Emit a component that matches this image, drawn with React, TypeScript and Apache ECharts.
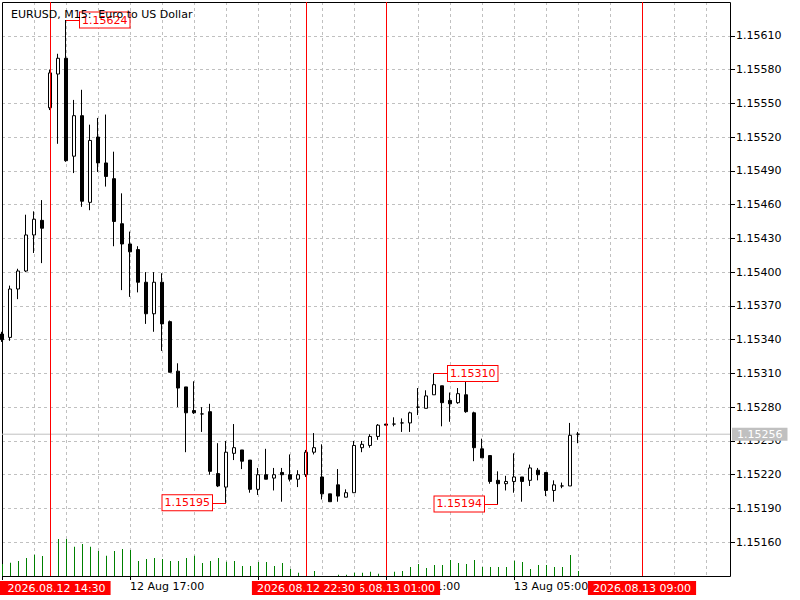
import React, { useEffect, useRef } from "react";
import * as echarts from "echarts";

const TITLE = "EURUSD, M15:  Euro to US Dollar";
const START_UTC = "2026-08-12T13:00:00Z";
const SLOT_COUNT = 92; // 73 bars + empty space on the right
const MONTHS = ["Jan", "Feb", "Mar", "Apr", "May", "Jun", "Jul", "Aug", "Sep", "Oct", "Nov", "Dec"];

const OPEN = [
  1.15345, 1.15342, 1.15385, 1.15401, 1.15433, 1.15446, 1.15546, 1.15576, 1.1559, 1.15503,
  1.15539, 1.15462, 1.1552, 1.15497, 1.15483, 1.15443, 1.15425, 1.1542, 1.15391, 1.15363,
  1.15391, 1.15356, 1.15312, 1.15298, 1.15277, 1.15274, 1.15276, 1.15221, 1.15209, 1.15239,
  1.15242, 1.15233, 1.15207, 1.1522, 1.15217, 1.15222, 1.1522, 1.15216, 1.1522, 1.1524,
  1.15218, 1.15203, 1.15211, 1.152, 1.15204, 1.15244, 1.15246, 1.15254, 1.15265, 1.15265,
  1.15266, 1.15266, 1.1528, 1.15279, 1.15291, 1.15299, 1.15286, 1.15284, 1.15291, 1.15275,
  1.15243, 1.15237, 1.15215, 1.15212, 1.15214, 1.15218, 1.15215, 1.15224, 1.15222, 1.15206,
  1.1521, 1.1521, 1.15256,
];
const HIGH = [
  1.15347, 1.15388, 1.15403, 1.15451, 1.15454, 1.15464, 1.1558, 1.15594, 1.15624, 1.15553,
  1.15562, 1.15531, 1.15537, 1.1554, 1.15507, 1.1547, 1.15436, 1.15423, 1.154, 1.154,
  1.15399, 1.15357, 1.15319, 1.15298, 1.15303, 1.1528, 1.15283, 1.15248, 1.1525, 1.15265,
  1.15242, 1.15233, 1.15226, 1.15243, 1.15226, 1.15226, 1.15238, 1.15224, 1.15242, 1.15257,
  1.15247, 1.15203, 1.15225, 1.15207, 1.1525, 1.1525, 1.15256, 1.15265, 1.15265, 1.15271,
  1.1527, 1.15276, 1.15297, 1.15295, 1.1531, 1.15299, 1.15293, 1.15297, 1.15307, 1.15276,
  1.15252, 1.15237, 1.15223, 1.15219, 1.15239, 1.15218, 1.15229, 1.15226, 1.15222, 1.15215,
  1.15213, 1.15266, 1.15258,
];
const LOW = [
  1.15338, 1.15339, 1.15376, 1.154, 1.15417, 1.15408, 1.15544, 1.15514, 1.15498, 1.15488,
  1.15458, 1.15455, 1.15489, 1.15476, 1.15423, 1.15384, 1.15378, 1.15382, 1.15354, 1.15347,
  1.1533, 1.15311, 1.1528, 1.1524, 1.15274, 1.15258, 1.1522, 1.15209, 1.15195, 1.15233,
  1.15225, 1.15204, 1.15202, 1.15216, 1.15206, 1.15196, 1.15214, 1.15209, 1.15218, 1.15238,
  1.15198, 1.15196, 1.15196, 1.152, 1.15204, 1.1524, 1.15244, 1.15251, 1.15264, 1.15263,
  1.15258, 1.15258, 1.15273, 1.15279, 1.15291, 1.15263, 1.15267, 1.15283, 1.15275, 1.15232,
  1.15235, 1.15212, 1.15194, 1.15206, 1.15204, 1.15196, 1.1521, 1.15215, 1.15201, 1.15196,
  1.15208, 1.1521, 1.15248,
];
const CLOSE = [
  1.1534, 1.15385, 1.15401, 1.15433, 1.15447, 1.15439, 1.15577, 1.1559, 1.15499, 1.15539,
  1.15463, 1.15517, 1.15497, 1.15485, 1.15445, 1.15425, 1.15418, 1.15391, 1.15363, 1.15391,
  1.15354, 1.15311, 1.15297, 1.15275, 1.15275, 1.15274, 1.15223, 1.1521, 1.1524, 1.15244,
  1.15232, 1.15207, 1.1522, 1.15216, 1.1522, 1.1522, 1.15216, 1.1522, 1.1524, 1.15244,
  1.15203, 1.15196, 1.15201, 1.15204, 1.15246, 1.15247, 1.15254, 1.15264, 1.15264, 1.15265,
  1.15266, 1.15275, 1.1528, 1.1529, 1.153, 1.15284, 1.15283, 1.15292, 1.15276, 1.15244,
  1.15235, 1.15214, 1.15212, 1.15214, 1.15218, 1.15214, 1.15226, 1.1522, 1.15206, 1.15211,
  1.1521, 1.15255, 1.15256,
];
const TICK_VOLUME = [
  480, 530, 600, 720, 850, 800, 1200, 1480, 1480, 1170,
  1280, 1170, 1000, 810, 1000, 1080, 1040, 600, 680, 720,
  680, 600, 600, 720, 810, 520, 600, 720, 570, 600,
  400, 400, 560, 560, 400, 520, 280, 130, 160, 200,
  0, 0, 50, 50, 130, 130, 170, 90, 160, 170,
  200, 360, 480, 320, 440, 440, 640, 520, 480, 640,
  360, 360, 360, 360, 610, 560, 280, 440, 440, 360,
  360, 840, 200,
];

// vertical event lines (drawing order matters for overlapping labels)
const EVENT_TIMES = ["2026.08.12 14:30", "2026.08.13 01:00", "2026.08.12 22:30", "2026.08.13 09:00"];
// time labels of the axis that stay visible (others lie under the event labels)
const TIME_LABEL_SLOTS = [16, 48, 64];
const TIME_TICK_SLOTS = [0, 16, 32, 48, 64];
// high / low price markers
const PRICE_MARKS = [
  { from: "2026.08.12 15:00", to: "2026.08.12 15:30", price: 1.15624 },
  { from: "2026.08.13 02:30", to: "2026.08.13 03:00", price: 1.1531 },
  { from: "2026.08.12 20:00", to: "2026.08.12 19:30", price: 1.15195 },
  { from: "2026.08.13 04:30", to: "2026.08.13 04:00", price: 1.15194 },
];
const BID = 1.15256;
const Y_MIN = 1.1513;
const Y_MAX = 1.1564;
const Y_STEP = 0.0003;

const pad = (n: number) => String(n).padStart(2, "0");
const CATEGORIES = Array.from({ length: SLOT_COUNT }, (_, i) => {
  const d = new Date(Date.parse(START_UTC) + i * 15 * 60000);
  return `${d.getUTCFullYear()}.${pad(d.getUTCMonth() + 1)}.${pad(d.getUTCDate())} ${pad(d.getUTCHours())}:${pad(d.getUTCMinutes())}`;
});
const shortTime = (s: string) => `${Number(s.slice(8, 10))} ${MONTHS[Number(s.slice(5, 7)) - 1]} ${s.slice(11)}`;

const FONT = "DejaVu Sans";
const GRID_LINE = { color: "#c0c0c0", width: 1, type: [3, 3] as any };

function buildOption(): any {
  const candles = OPEN.map((o, i) => [o, CLOSE[i], LOW[i], HIGH[i]]);
  const eventLines = EVENT_TIMES.map((t) => ({
    name: t,
    xAxis: t,
    label: {
      show: true,
      position: "start",
      distance: 5,
      formatter: "{b}",
      color: "#ffffff",
      backgroundColor: "#ff0000",
      fontFamily: FONT,
      fontSize: 11,
      lineHeight: 12,
      padding: t === "2026.08.12 14:30" ? [1, 5, 1, 18] : [1, 5, 1, 5],
    },
  }));
  const priceLines = PRICE_MARKS.map((m) => [
    {
      coord: [m.from, m.price],
      label: {
        show: true,
        position: "end",
        distance: -2,
        formatter: m.price.toFixed(5),
        color: "#ff0000",
        backgroundColor: "#ffffff",
        borderColor: "#ff0000",
        borderWidth: 1,
        fontFamily: FONT,
        fontSize: 11,
        lineHeight: 13,
        padding: [1, 2, 1, 2],
      },
    },
    { coord: [m.to, m.price] },
  ]);

  return {
    animation: false,
    backgroundColor: "#ffffff",
    textStyle: { fontFamily: FONT, fontSize: 11, color: "#000" },
    title: {
      text: TITLE,
      left: 6,
      top: 4,
      textStyle: { fontFamily: FONT, fontSize: 11, fontWeight: "normal", color: "#000" },
    },
    grid: [
      { left: 2, right: 70, top: 2, bottom: 24, show: false },
      { left: 2.5, right: 69.5, bottom: 24, height: 100, show: false },
      // frame of the chart window (half-pixel aligned so the 1px border is crisp)
      { left: 2.5, right: 69.5, top: 2.5, bottom: 23.5, show: true, z: 1, borderColor: "#000", borderWidth: 1, backgroundColor: "transparent" },
    ],
    xAxis: [
      {
        type: "category",
        gridIndex: 0,
        data: CATEGORIES,
        boundaryGap: false,
        axisLine: { show: false },
        axisTick: {
          show: true,
          interval: (i: number) => TIME_TICK_SLOTS.includes(i),
          length: 4,
          lineStyle: { color: "#000" },
        },
        axisLabel: {
          show: true,
          interval: (i: number) => TIME_LABEL_SLOTS.includes(i),
          formatter: (v: string) => shortTime(v),
          align: "left",
          margin: 5,
          color: "#000",
          fontFamily: FONT,
          fontSize: 11,
        },
        splitLine: { show: true, interval: (i: number) => i % 4 === 0 && i > 0, lineStyle: GRID_LINE },
      },
      { type: "category", gridIndex: 1, data: CATEGORIES, boundaryGap: false, show: false },
      { type: "value", gridIndex: 2, min: 0, max: 1, show: false, splitLine: { show: false } },
    ],
    yAxis: [
      {
        type: "value",
        gridIndex: 0,
        position: "right",
        min: Y_MIN,
        max: Y_MAX,
        interval: Y_STEP,
        scale: true,
        axisLine: { show: false },
        axisTick: { show: true, length: 5, lineStyle: { color: "#000" } },
        axisLabel: {
          margin: 6,
          color: "#000",
          fontFamily: FONT,
          fontSize: 11,
          showMinLabel: false,
          showMaxLabel: false,
          formatter: (v: number) => v.toFixed(5),
        },
        splitLine: { show: true, showMinLine: false, showMaxLine: false, lineStyle: GRID_LINE },
      },
      { type: "value", gridIndex: 1, min: 0, max: 4000, show: false, splitLine: { show: false } },
      { type: "value", gridIndex: 2, min: 0, max: 1, show: false, splitLine: { show: false } },
    ],
    series: [
      {
        type: "bar",
        name: "Volume",
        xAxisIndex: 1,
        yAxisIndex: 1,
        data: TICK_VOLUME,
        barWidth: 1,
        itemStyle: { color: "#008000" },
        silent: true,
        z: 2,
      },
      {
        type: "line",
        name: "Bid",
        xAxisIndex: 0,
        yAxisIndex: 0,
        data: CATEGORIES.map(() => BID),
        symbol: "none",
        silent: true,
        z: 1,
        lineStyle: { color: "#c0c0c0", width: 1 },
        endLabel: {
          show: true,
          formatter: () => BID.toFixed(5),
          distance: 2,
          color: "#ffffff",
          backgroundColor: "#c0c0c0",
          fontFamily: FONT,
          fontSize: 11,
          lineHeight: 13,
          padding: [0, 5, 0, 5],
        },
      },
      {
        type: "candlestick",
        name: "EURUSD",
        xAxisIndex: 0,
        yAxisIndex: 0,
        data: candles,
        barWidth: 4,
        z: 3,
        silent: true,
        itemStyle: {
          color: "#ffffff",
          color0: "#000000",
          borderColor: "#000000",
          borderColor0: "#000000",
          borderColorDoji: "#000000",
          borderWidth: 1,
        },
        markLine: {
          silent: true,
          symbol: ["none", "none"],
          lineStyle: { color: "#ff0000", width: 1, type: "solid" },
          data: [...eventLines, ...priceLines],
        },
      },
    ],
  };
}

export default function App() {
  const ref = useRef<HTMLDivElement>(null);
  useEffect(() => {
    if (!ref.current) return;
    const chart = echarts.init(ref.current, null, { renderer: "svg" });
    chart.setOption(buildOption());
    return () => chart.dispose();
  }, []);
  return (
    <div
      ref={ref}
      style={{ position: "fixed", left: 0, top: 0, width: 800, height: 600, background: "#ffffff" }}
    />
  );
}
